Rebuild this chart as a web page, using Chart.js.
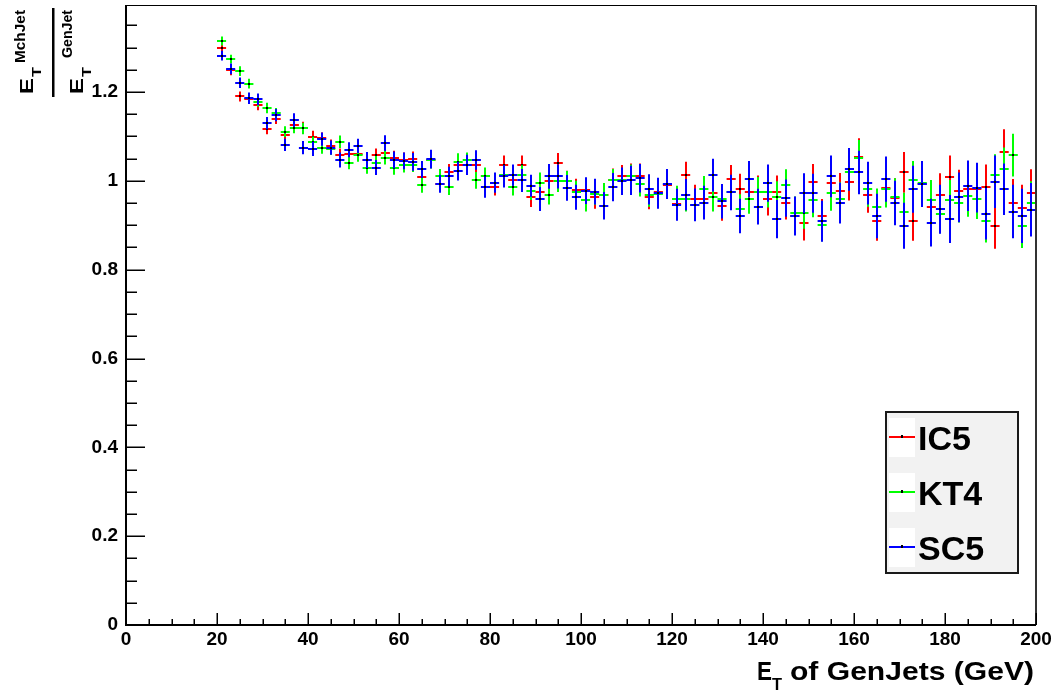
<!DOCTYPE html>
<html>
<head>
<meta charset="utf-8">
<script src="https://cdn.jsdelivr.net/npm/chart.js@4.4.1/dist/chart.umd.min.js"></script>
<style>
html,body{margin:0;padding:0;background:#fff;}
#wrap{width:1055px;height:691px;position:relative;}
</style>
</head>
<body>
<div id="wrap"><canvas id="c" width="1055" height="691"></canvas></div>
<script>
// ---- data ----
const etBins = [21,23,25,27,29,31,33,35,37,39,41,43,45,47,49,51,53,55,57,59,
  61,63,65,67,69,71,73,75,77,79,81,83,85,87,89,91,93,95,97,99,
  101,103,105,107,109,111,113,115,117,119,121,123,125,127,129,131,133,135,137,139,
  141,143,145,147,149,151,153,155,157,159,161,163,165,167,169,171,173,175,177,179,
  181,183,185,187,189,191,193,195,197,199];
const binHalfWidth = 1;

const ic5 = [1.300,1.249,1.190,1.185,1.171,1.117,1.140,1.103,1.126,1.120,
  1.099,1.096,1.079,1.058,1.060,1.060,1.047,1.058,1.063,1.051,
  1.048,1.049,1.008,1.048,0.993,1.019,1.036,1.036,1.036,1.010,
  0.987,1.036,1.002,1.036,0.963,0.976,0.999,1.040,0.999,0.980,
  0.980,0.963,0.969,1.001,1.010,1.011,1.010,0.963,0.975,0.990,
  0.948,1.013,0.959,0.959,0.972,0.944,1.004,0.981,0.976,0.976,
  0.959,0.976,0.951,0.921,0.905,0.998,0.921,0.996,0.978,0.998,
  1.053,0.969,0.909,0.984,0.961,1.019,0.909,0.993,0.941,0.969,
  1.008,0.978,0.981,0.981,0.986,0.899,1.066,0.951,0.939,0.972];
const kt4 = [1.315,1.274,1.247,1.219,1.178,1.164,1.152,1.111,1.120,1.118,
  1.087,1.075,1.072,1.088,1.041,1.058,1.030,1.040,1.052,1.030,
  1.036,1.036,0.990,1.046,1.010,0.986,1.043,1.046,1.001,1.010,
  0.996,1.013,0.987,1.013,0.978,0.996,0.969,0.999,0.999,0.976,
  0.956,0.970,0.969,1.002,1.002,1.011,0.993,0.969,0.970,0.993,
  0.959,0.960,0.946,0.981,0.963,0.959,0.974,0.936,0.959,0.974,
  0.974,0.963,0.991,0.928,0.928,0.956,0.901,0.972,0.959,1.019,
  1.051,0.981,0.941,0.981,0.963,0.931,1.001,0.995,0.957,0.926,
  0.956,0.951,0.966,0.960,0.909,1.013,1.026,1.058,0.899,0.950];
const sc5 = [1.282,1.252,1.221,1.186,1.184,1.130,1.148,1.081,1.137,1.075,
  1.072,1.094,1.075,1.047,1.070,1.079,1.047,1.030,1.085,1.047,
  1.045,1.043,1.026,1.049,0.993,1.010,1.022,1.036,1.047,0.986,
  0.996,1.010,1.013,1.001,0.989,0.959,1.010,1.010,0.984,0.963,
  0.978,0.976,0.944,0.986,0.999,1.001,1.006,0.981,0.972,0.993,
  0.946,0.969,0.946,0.951,1.013,0.954,0.974,0.921,1.004,0.942,
  0.995,0.914,0.961,0.921,0.972,0.972,0.909,1.010,0.950,1.026,
  1.019,0.995,0.921,1.004,0.950,0.899,0.981,0.993,0.906,0.936,
  0.914,0.963,0.989,0.985,0.926,0.998,0.981,0.931,0.921,0.935];

const ic5Err = [0.010,0.011,0.011,0.012,0.012,0.012,0.012,0.013,0.013,0.013,
  0.014,0.013,0.014,0.015,0.015,0.014,0.016,0.015,0.016,0.017,
  0.016,0.017,0.018,0.017,0.018,0.019,0.018,0.019,0.020,0.019,
  0.020,0.021,0.022,0.021,0.022,0.023,0.024,0.023,0.024,0.025,
  0.024,0.026,0.025,0.027,0.026,0.028,0.029,0.027,0.029,0.030,
  0.031,0.030,0.032,0.031,0.033,0.034,0.032,0.035,0.034,0.036,
  0.037,0.036,0.038,0.037,0.039,0.040,0.038,0.041,0.040,0.042,
  0.043,0.041,0.044,0.043,0.045,0.046,0.044,0.047,0.046,0.048,
  0.049,0.047,0.050,0.049,0.051,0.052,0.050,0.053,0.052,0.054];
const kt4Err = [0.010,0.010,0.011,0.011,0.011,0.012,0.012,0.012,0.013,0.013,
  0.013,0.014,0.013,0.014,0.015,0.015,0.014,0.016,0.015,0.016,
  0.017,0.016,0.017,0.018,0.017,0.018,0.019,0.018,0.019,0.020,
  0.019,0.021,0.020,0.022,0.021,0.023,0.022,0.024,0.023,0.024,
  0.025,0.024,0.026,0.025,0.027,0.026,0.028,0.027,0.029,0.028,
  0.030,0.029,0.031,0.030,0.032,0.033,0.031,0.034,0.033,0.035,
  0.034,0.036,0.035,0.037,0.036,0.038,0.037,0.039,0.038,0.040,
  0.041,0.039,0.042,0.041,0.043,0.042,0.044,0.043,0.045,0.044,
  0.046,0.045,0.047,0.046,0.048,0.047,0.049,0.048,0.050,0.049];
const sc5Err = [0.011,0.012,0.012,0.013,0.013,0.014,0.014,0.014,0.015,0.015,
  0.016,0.015,0.016,0.017,0.017,0.016,0.018,0.017,0.018,0.019,
  0.019,0.020,0.019,0.021,0.020,0.022,0.021,0.023,0.022,0.024,
  0.023,0.025,0.024,0.026,0.025,0.027,0.028,0.027,0.029,0.028,
  0.030,0.029,0.031,0.032,0.031,0.033,0.032,0.034,0.035,0.034,
  0.036,0.035,0.037,0.038,0.037,0.039,0.040,0.039,0.041,0.040,
  0.042,0.043,0.042,0.044,0.045,0.044,0.046,0.047,0.046,0.048,
  0.049,0.048,0.050,0.051,0.050,0.052,0.053,0.052,0.054,0.055,
  0.054,0.056,0.057,0.056,0.058,0.059,0.058,0.060,0.061,0.060];

const seriesNames = ['IC5','KT4','SC5'];
const seriesColors = ['#ff0000','#00ff00','#0000ff'];

const xMajorTicks = [0,20,40,60,80,100,120,140,160,180,200];
const xTickLabels = ['0','20','40','60','80','100','120','140','160','180','200'];
const yMajorTicks = [0,0.2,0.4,0.6,0.8,1,1.2];
const yTickLabels = ['0','0.2','0.4','0.6','0.8','1','1.2'];
const xMinorStep = 5, yMinorStep = 0.05;
const xMin = 0, xMax = 200, yMin = 0, yMax = 1.396;

// ---- helpers ----
function fitText(ctx, text, x, y, font, w) {
  ctx.save();
  ctx.font = font;
  const m = ctx.measureText(text).width;
  ctx.translate(x, y);
  ctx.scale(w / m, 1);
  ctx.textAlign = 'left';
  ctx.textBaseline = 'alphabetic';
  ctx.fillText(text, 0, 0);
  ctx.restore();
}
function rotText(ctx, text, sx, sy, font, len) {
  ctx.save();
  ctx.font = font;
  const m = ctx.measureText(text).width;
  ctx.translate(sx, sy);
  ctx.rotate(-Math.PI / 2);
  ctx.scale(len / m, 1);
  ctx.textAlign = 'left';
  ctx.textBaseline = 'alphabetic';
  ctx.fillText(text, 0, 0);
  ctx.restore();
}

const rootPlugin = {
  id: 'rootStyle',
  afterDatasetsDraw(chart) {
    const ctx = chart.ctx;
    const xs = chart.scales.x, ys = chart.scales.y;
    const ca = chart.chartArea;
    ctx.save();
    // error crosses, drawn series by series
    chart.data.datasets.forEach((ds, di) => {
      ctx.strokeStyle = ds.borderColor;
      ctx.lineWidth = 2;
      ctx.beginPath();
      ds.data.forEach(p => {
        const px = xs.getPixelForValue(p.x);
        const py = Math.round(ys.getPixelForValue(p.y));
        const x0 = xs.getPixelForValue(p.x - binHalfWidth);
        const x1 = xs.getPixelForValue(p.x + binHalfWidth);
        const ylo = ys.getPixelForValue(p.y - p.e);
        const yhi = ys.getPixelForValue(p.y + p.e);
        ctx.moveTo(x0, py); ctx.lineTo(x1, py);
        ctx.moveTo(Math.round(px), ylo); ctx.lineTo(Math.round(px), yhi);
      });
      ctx.stroke();
      ctx.fillStyle = '#000';
      ds.data.forEach(p => {
        const px = Math.round(xs.getPixelForValue(p.x));
        const py = Math.round(ys.getPixelForValue(p.y));
        ctx.fillRect(px - 1, py - 1, 2, 2);
      });
    });

    // frame
    ctx.strokeStyle = '#000';
    ctx.lineWidth = 1;
    ctx.beginPath();
    ctx.moveTo(ca.left, ca.top + 0.5); ctx.lineTo(ca.right, ca.top + 0.5);
    ctx.stroke();
    ctx.strokeStyle = '#333';
    ctx.lineWidth = 2;
    ctx.beginPath();
    ctx.moveTo(ca.right, ca.top); ctx.lineTo(ca.right, ca.bottom);
    ctx.stroke();
    ctx.strokeStyle = '#000';
    ctx.beginPath();
    ctx.moveTo(ca.left, ca.top); ctx.lineTo(ca.left, ca.bottom);
    ctx.lineTo(ca.right, ca.bottom);
    ctx.stroke();

    // ticks (inside the frame)
    ctx.lineWidth = 1.5;
    ctx.beginPath();
    for (let v = xMin; v <= xMax + 1e-9; v += xMinorStep) {
      const px = Math.round(xs.getPixelForValue(v)) + 0.25;
      const major = Math.abs(v / 20 - Math.round(v / 20)) < 1e-6;
      ctx.moveTo(px, ca.bottom); ctx.lineTo(px, ca.bottom - (major ? 12 : 6));
    }
    for (let k = 0; k * yMinorStep <= yMax + 1e-9; k++) {
      const v = k * yMinorStep;
      const py = Math.round(ys.getPixelForValue(v)) + 0.25;
      const major = k % 4 === 0;
      ctx.moveTo(ca.left, py); ctx.lineTo(ca.left + (major ? 19 : 11), py);
    }
    ctx.stroke();

    // x-axis title
    ctx.fillStyle = '#000';
    fitText(ctx, 'E', 757, 680, 'bold 25px "Liberation Sans"', 15);
    fitText(ctx, 'T', 772, 690, 'bold 16px "Liberation Sans"', 10);
    fitText(ctx, 'of GenJets (GeV)', 790, 680, 'bold 25px "Liberation Sans"', 244);

    // y-axis title (fraction)
    rotText(ctx, 'E', 33, 94, 'bold 18px "Liberation Sans"', 16);
    rotText(ctx, 'T', 41, 77, 'bold 12px "Liberation Sans"', 10);
    rotText(ctx, 'MchJet', 25, 63, 'bold 14px "Liberation Sans"', 53);
    ctx.fillRect(52, 8, 2.5, 89);
    rotText(ctx, 'E', 83, 94, 'bold 18px "Liberation Sans"', 16);
    rotText(ctx, 'T', 91, 77, 'bold 12px "Liberation Sans"', 10);
    rotText(ctx, 'GenJet', 72, 58, 'bold 14px "Liberation Sans"', 48);

    // legend
    ctx.fillStyle = '#f2f2f2';
    ctx.fillRect(886, 412, 132, 161);
    ctx.strokeStyle = '#1a1a1a';
    ctx.lineWidth = 2;
    ctx.strokeRect(886, 412, 132, 161);
    const rowY = [437, 492, 547];
    chart.data.datasets.forEach((ds, i) => {
      const cy = rowY[i];
      ctx.fillStyle = '#fff';
      ctx.fillRect(889, cy - 19, 26, 39);
      ctx.strokeStyle = ds.borderColor;
      ctx.lineWidth = 2;
      ctx.beginPath();
      ctx.moveTo(889, cy); ctx.lineTo(915, cy);
      ctx.stroke();
      ctx.fillStyle = '#000';
      ctx.fillRect(901, cy - 2, 2, 3);
      ctx.font = 'bold 34px "Liberation Sans"';
      ctx.textAlign = 'left';
      ctx.textBaseline = 'alphabetic';
      ctx.fillText(ds.label, 918, cy + 13);
    });
    ctx.restore();
  }
};

const seriesValues = [ic5, kt4, sc5];
const seriesErrors = [ic5Err, kt4Err, sc5Err];
const datasets = seriesNames.map((name, s) => ({
  label: name,
  data: etBins.map((x, i) => ({ x: x, y: seriesValues[s][i], e: seriesErrors[s][i] })),
  borderColor: seriesColors[s],
  backgroundColor: seriesColors[s],
  pointRadius: 0,
  showLine: false
}));

const tickFont = { family: '"Liberation Sans", Arial, sans-serif', size: 19, weight: 'bold' };

new Chart(document.getElementById('c'), {
  type: 'scatter',
  data: { datasets: datasets },
  options: {
    responsive: false,
    animation: false,
    events: [],
    layout: { padding: { top: 5, right: 19, left: 0, bottom: 0 } },
    plugins: { legend: { display: false }, tooltip: { enabled: false }, title: { display: false } },
    scales: {
      x: {
        type: 'linear', min: xMin, max: xMax,
        grid: { display: false, drawTicks: false },
        border: { display: false },
        afterBuildTicks: s => { s.ticks = xMajorTicks.map(v => ({ value: v })); },
        afterFit: s => { s.height = 66; s.paddingLeft = 0; s.paddingRight = 0; },
        ticks: {
          autoSkip: false, maxRotation: 0, minRotation: 0, padding: 3,
          color: '#000', font: tickFont,
          callback: (v) => { const i = xMajorTicks.indexOf(v); return i >= 0 ? xTickLabels[i] : ''; }
        }
      },
      y: {
        type: 'linear', min: yMin, max: yMax,
        grid: { display: false, drawTicks: false },
        border: { display: false },
        afterBuildTicks: s => { s.ticks = yMajorTicks.map(v => ({ value: v })); },
        afterFit: s => { s.width = 126; s.paddingTop = 0; s.paddingBottom = 0; },
        ticks: {
          autoSkip: false, padding: 8,
          color: '#000', font: tickFont,
          callback: (v) => { const i = yMajorTicks.indexOf(v); return i >= 0 ? yTickLabels[i] : ''; }
        }
      }
    }
  },
  plugins: [rootPlugin]
});
</script>
</body>
</html>
